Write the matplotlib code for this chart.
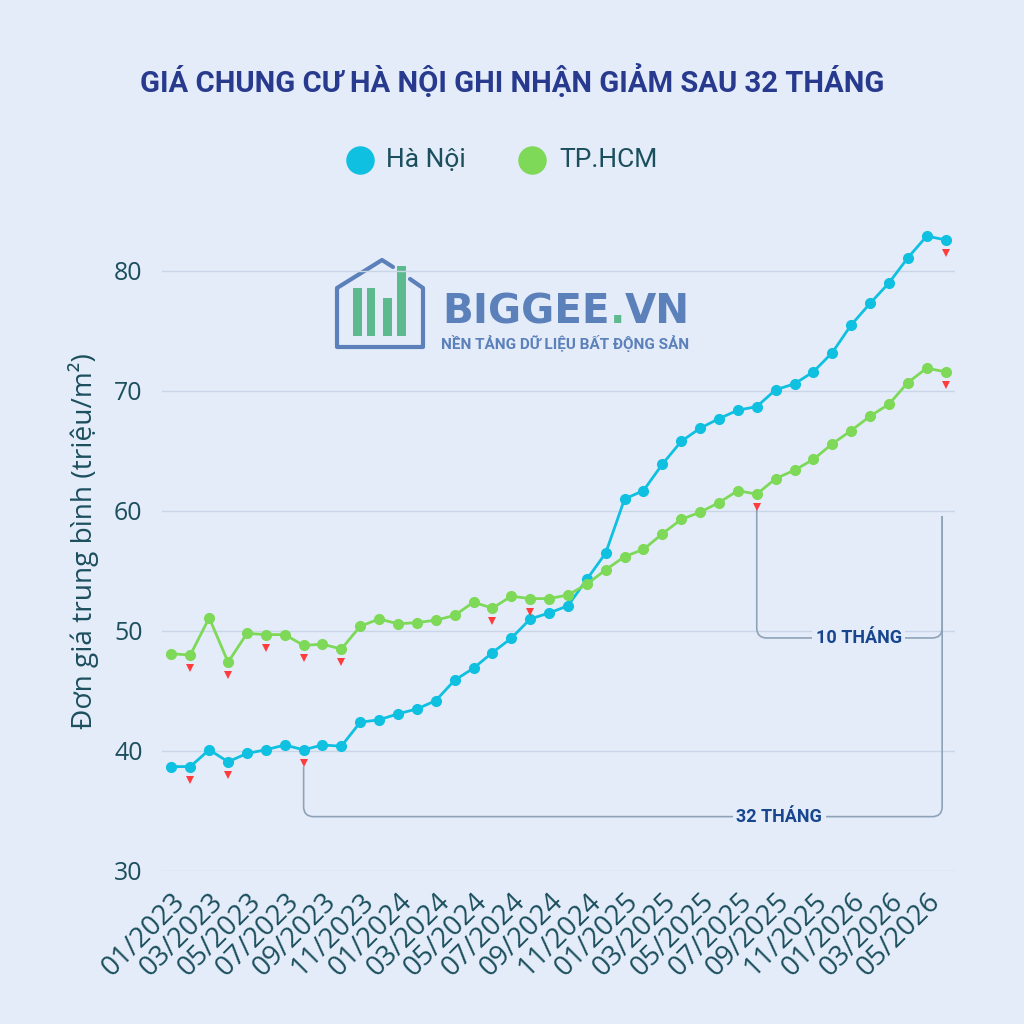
import matplotlib
matplotlib.use('Agg')
import matplotlib.pyplot as plt
from matplotlib.path import Path
from matplotlib.patches import PathPatch, Rectangle
from matplotlib.lines import Line2D
import matplotlib.transforms as mtransforms
import numpy as np

# ---------------- data ----------------
months = ["01/2023", "02/2023", "03/2023", "04/2023", "05/2023", "06/2023",
          "07/2023", "08/2023", "09/2023", "10/2023", "11/2023", "12/2023",
          "01/2024", "02/2024", "03/2024", "04/2024", "05/2024", "06/2024",
          "07/2024", "08/2024", "09/2024", "10/2024", "11/2024", "12/2024",
          "01/2025", "02/2025", "03/2025", "04/2025", "05/2025", "06/2025",
          "07/2025", "08/2025", "09/2025", "10/2025", "11/2025", "12/2025",
          "01/2026", "02/2026", "03/2026", "04/2026", "05/2026", "06/2026"]
hanoi = [38.7, 38.7, 40.1, 39.1, 39.8, 40.1, 40.5, 40.1, 40.5, 40.4,
         42.4, 42.6, 43.1, 43.5, 44.2, 45.9, 46.9, 48.2, 49.4, 51.0,
         51.5, 52.1, 54.3, 56.5, 61.0, 61.7, 63.9, 65.8, 66.9, 67.7,
         68.4, 68.7, 70.1, 70.6, 71.6, 73.2, 75.5, 77.3, 79.0, 81.1,
         82.9, 82.6]
hcm = [48.1, 48.0, 51.1, 47.4, 49.8, 49.7, 49.7, 48.8, 48.9, 48.5,
       50.4, 51.0, 50.6, 50.7, 50.9, 51.3, 52.4, 51.9, 52.9, 52.7,
       52.7, 53.0, 53.9, 55.1, 56.2, 56.8, 58.1, 59.3, 59.9, 60.7,
       61.7, 61.4, 62.7, 63.4, 64.3, 65.6, 66.7, 67.9, 68.9, 70.7,
       71.9, 71.6]
hanoi_drops = [1, 3, 7, 41]
hcm_drops = [1, 3, 5, 7, 9, 17, 19, 31, 41]
y_ticks = [30, 40, 50, 60, 70, 80]
series_names = ["Hà Nội", "TP.HCM"]

title = "GIÁ CHUNG CƯ HÀ NỘI GHI NHẬN GIẢM SAU 32 THÁNG"
ylabel = "Đơn giá trung bình (triệu/m²)"
note_32 = "32 THÁNG"
note_10 = "10 THÁNG"

# ---------------- style ----------------
BG = '#e4ecfa'
HN_C = '#0fc0e0'
HCM_C = '#7dd957'
DROP_C = '#ff3b3b'
TEXT_C = '#1c4f5d'
TITLE_C = '#283a8e'
NOTE_C = '#17468f'
BRACKET_C = '#8fa3b8'
GRID_C = '#cad6e7'
LOGO_BLUE = '#5b80ba'
LOGO_GREEN = '#5dba8f'
COND = ['Liberation Sans Narrow', 'Roboto', 'DejaVu Sans']

W = H = 1024
fig = plt.figure(figsize=(10.24, 10.24), dpi=100, facecolor=BG)
renderer = fig.canvas.get_renderer()


def fp(px, py):
    return (px / W, 1 - py / H)


ax = fig.add_axes([162 / W, 1 - 871 / H, (955 - 162) / W, (871 - 211) / H])
ax.set_facecolor('none')

x = np.arange(len(months))
ax.set_xlim(-0.5, len(months) - 0.5)
ax.set_ylim(30, 85)

for s in ax.spines.values():
    s.set_visible(False)
ax.set_yticks(y_ticks)
ax.set_yticklabels([str(v) for v in y_ticks], fontfamily='Open Sans')
ax.grid(axis='y', color=GRID_C, lw=1.0)
ax.set_axisbelow(True)
ax.tick_params(axis='y', length=0, pad=14, labelsize=18, labelcolor=TEXT_C)
ax.set_xticks(x[::2])
ax.set_xticklabels(months[::2], fontfamily='Open Sans')
ax.tick_params(axis='x', length=0, pad=12, labelsize=20, labelcolor=TEXT_C)
plt.setp(ax.get_xticklabels(), rotation=45, ha='right', va='top',
         rotation_mode='anchor')

# lines
ax.plot(x, hanoi, color=HN_C, lw=2.0, marker='o', ms=7, zorder=4,
        solid_joinstyle='round')
ax.plot(x, hcm, color=HCM_C, lw=2.0, marker='o', ms=7, zorder=4,
        solid_joinstyle='round')

# drop markers (offset below the point)
off = ax.transData + mtransforms.ScaledTranslation(0, -13 / 100, fig.dpi_scale_trans)
hn_arr = np.array(hanoi)
hcm_arr = np.array(hcm)
ax.plot(x[hanoi_drops], hn_arr[hanoi_drops], 'v', color=DROP_C, ms=5.5,
        transform=off, zorder=5, markeredgewidth=0)
ax.plot(x[hcm_drops], hcm_arr[hcm_drops], 'v', color=DROP_C, ms=5.5,
        transform=off, zorder=5, markeredgewidth=0)

# brackets
sx = ax.transData.transform((1, 0))[0] - ax.transData.transform((0, 0))[0]
sy = ax.transData.transform((0, 1))[1] - ax.transData.transform((0, 0))[1]


def bracket(x0, x1, y_left, y_bot, y_right, r_px=10):
    rx, ry = r_px / sx, r_px / sy
    verts = [(x0, y_left), (x0, y_bot + ry), (x0, y_bot), (x0 + rx, y_bot),
             (x1 - rx, y_bot), (x1, y_bot), (x1, y_bot + ry), (x1, y_right)]
    codes = [Path.MOVETO, Path.LINETO, Path.CURVE3, Path.CURVE3,
             Path.LINETO, Path.CURVE3, Path.CURVE3, Path.LINETO]
    ax.add_patch(PathPatch(Path(verts, codes), facecolor='none',
                           edgecolor=BRACKET_C, lw=1.2, zorder=2))


BR_RIGHT = 40.82
bracket(7, BR_RIGHT, 38.7, 34.53, 59.58)
bracket(31, BR_RIGHT, 60.15, 49.42, 59.58)
ax.text(32.2, 34.53, note_32, ha='center', va='center', fontsize=13,
        fontweight='bold', color=NOTE_C, family=COND, zorder=3,
        bbox=dict(facecolor=BG, edgecolor='none', pad=2.5))
ax.text(36.4, 49.42, note_10, ha='center', va='center', fontsize=13,
        fontweight='bold', color=NOTE_C, family=COND, zorder=3,
        bbox=dict(facecolor=BG, edgecolor='none', pad=2.5))

# ---------------- title ----------------
t = fig.text(*fp(512, 81), title, ha='center', va='center', fontsize=20,
             fontweight='bold', color=TITLE_C, family=COND)
wt = t.get_window_extent(renderer).width
t.set_fontsize(20 * 744 / wt)

# ---------------- legend ----------------
for cx, tx, name, col in [(360, 386, series_names[0], HN_C),
                          (532, 559, series_names[1], HCM_C)]:
    fig.add_artist(Line2D([cx / W], [1 - 160 / H], marker='o', ms=19.5,
                          color=col, lw=0, transform=fig.transFigure))
    fig.text(tx / W, 1 - 160 / H, name, ha='left', va='center', fontsize=19,
             color=TEXT_C, family='Roboto')

# ---------------- y label ----------------
yl = fig.text(*fp(84, 541), ylabel, rotation=90, ha='center', va='center',
              fontsize=19, color=TEXT_C, family='Open Sans')
hy = yl.get_window_extent(renderer).height
yl.set_fontsize(19 * 377 / hy)

# ---------------- logo (watermark) ----------------
house = [(410, 279), (423, 288), (423, 347), (337, 347), (337, 288),
         (382, 260), (393, 267)]
fig.add_artist(Line2D([p[0] / W for p in house], [1 - p[1] / H for p in house],
                      color=LOGO_BLUE, lw=3.0, solid_joinstyle='round',
                      solid_capstyle='round', transform=fig.transFigure,
                      zorder=-1))
for (bx0, by0, bx1, by1) in [(353, 288, 362, 336), (367, 288, 375, 336),
                             (383, 298, 392, 336), (397, 266, 406, 336)]:
    fig.add_artist(Rectangle((bx0 / W, 1 - by1 / H), (bx1 - bx0) / W,
                             (by1 - by0) / H, facecolor=LOGO_GREEN,
                             edgecolor='none', transform=fig.transFigure,
                             zorder=-1))

# BIGGEE.VN
LOGO_X0 = 442.0
lg = fig.text(LOGO_X0 / W, 1 - 323 / H, "BIGGEE.VN", fontsize=26, fontweight='bold',
              family='DejaVu Sans', color=LOGO_BLUE, va='baseline', ha='left')
wl = lg.get_window_extent(renderer).width
fs_logo = 26 * 248 / wl
lg.remove()
cur = LOGO_X0
for part, col in [("BIGGEE", LOGO_BLUE), (".", LOGO_GREEN), ("VN", LOGO_BLUE)]:
    tt = fig.text(cur / W, 1 - 323 / H, part, fontsize=fs_logo, fontweight='bold',
                  family='DejaVu Sans', color=col, va='baseline', ha='left',
                  zorder=-1)
    cur += tt.get_window_extent(renderer).width
sub = fig.text(441 / W, 1 - 349 / H, "NỀN TẢNG DỮ LIỆU BẤT ĐỘNG SẢN",
               fontsize=11, fontweight='bold', family='Roboto',
               color=LOGO_BLUE, va='baseline', ha='left', zorder=-1)
ws = sub.get_window_extent(renderer).width
sub.set_fontsize(11 * 247 / ws)

fig.savefig('out.png', dpi=100, facecolor=BG)
